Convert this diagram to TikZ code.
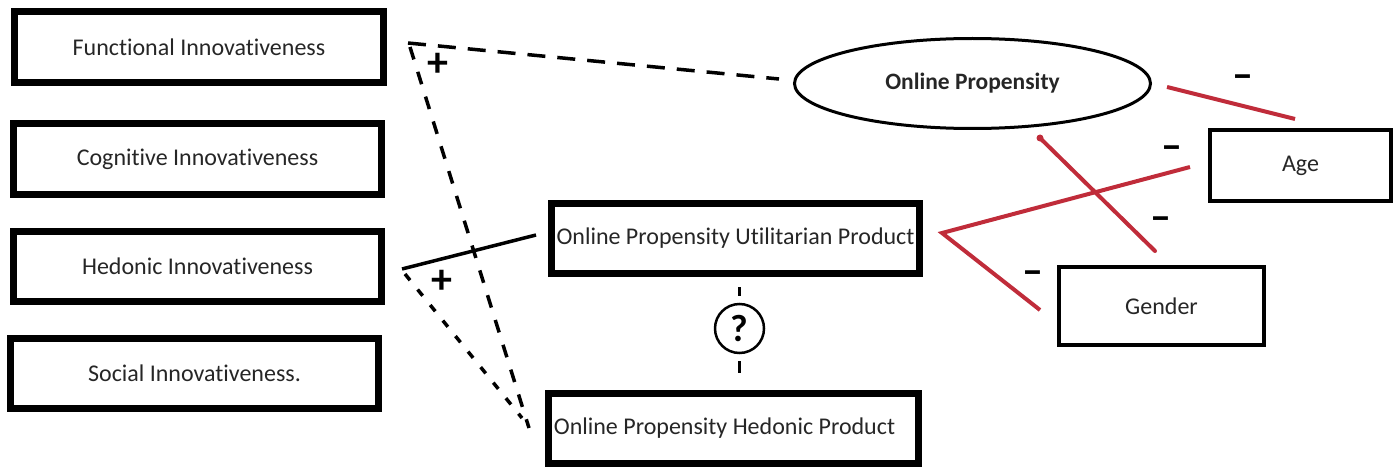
\documentclass[tikz,border=0pt]{standalone}
\usepackage{fontspec}
\setmainfont{Carlito}[Ligatures=NoCommon]
\usetikzlibrary{shapes.geometric}
\definecolor{linkred}{RGB}{192,44,58}
\tikzset{
  thickbox/.style={draw=black, line width=7pt, rectangle, inner sep=0pt,
    font=\fontsize{24}{28}\selectfont, text=black!85},
  thinbox/.style={draw=black, line width=4pt, rectangle, inner sep=0pt,
    font=\fontsize{24}{28}\selectfont, text=black!85},
  longdash/.style={draw=black, line width=3.5pt, dash pattern=on 18pt off 12pt},
  middash/.style={draw=black, line width=3.5pt, dash pattern=on 13pt off 13pt},
  shortdash/.style={draw=black, line width=3.5pt, dash pattern=on 8pt off 12pt},
  redlink/.style={draw=linkred, line width=4pt},
  sign/.style={font=\bfseries\fontsize{42}{42}\selectfont, inner sep=0pt},
  minus/.style={font=\bfseries\fontsize{42}{42}\selectfont, inner sep=0pt}
}
\begin{document}
\begin{tikzpicture}[x=1pt, y=-1pt]
\useasboundingbox (0,0) rectangle (1400,468);

% left column: the four innovativeness boxes
\node[thickbox, minimum width=369pt, minimum height=71pt] (fi) at (199,47) {Functional Innovativeness};
\node[thickbox, minimum width=368pt, minimum height=71pt] (ci) at (197.5,159) {Cognitive Innovativeness};
\node[thickbox, minimum width=368pt, minimum height=70pt] (hi) at (197.5,266.5) {Hedonic Innovativeness};
\node[thickbox, minimum width=368pt, minimum height=70pt] (si) at (194.5,373.5) {Social Innovativeness.};

% middle: product propensities
\node[thickbox, minimum width=368pt, minimum height=70pt] (ut) at (735.5,238.5) {Online Propensity Utilitarian Product};
\node[thickbox, minimum width=370pt, minimum height=70pt] (hp) at (733.5,428.5) {Online Propensity Hedonic Product\kern18pt};

% right: overall propensity and controls
\node[ellipse, draw=black, line width=3pt, minimum width=356pt, minimum height=90pt, inner sep=0pt,
  font=\bfseries\fontsize{23.5}{27}\selectfont, text=black!85] (op) at (972.5,83.5) {Online Propensity};
\node[thinbox, minimum width=181pt, minimum height=71pt] (age) at (1300.5,165.5) {Age};
\node[thinbox, minimum width=205pt, minimum height=78pt] (gen) at (1161.5,306) {Gender};

% open question between the two product propensities
\node[circle, draw=black, line width=2.5pt, minimum size=49pt, inner sep=0pt,
  font=\bfseries\fontsize{38}{38}\selectfont] (q) at (739.5,328.5) {?};
\coordinate (qt1) at (739.5,287);
\coordinate (qt2) at (739.5,296);
\coordinate (qb1) at (739.5,361);
\coordinate (qb2) at (739.5,373);
\draw[line width=3.5pt] (qt1) -- (qt2);
\draw[line width=3.5pt] (qb1) -- (qb2);

% positive paths from innovativeness
\coordinate (fc) at (408,43);
\coordinate (fc2) at (410,47);
\coordinate (opin) at (779,79);
\coordinate (hpin) at (529,428);
\coordinate (hc) at (405,274);
\coordinate (hpin2) at (522,418);
\coordinate (hcs) at (402,269);
\coordinate (utin) at (536,235);
\draw[longdash] (fc) -- (opin);
\draw[middash] (fc2) -- (hpin);
\draw[shortdash] (hc) -- (hpin2);
\draw[line width=3.5pt] (hcs) -- (utin);
\node[sign] (p1) at (438,65) {+};
\node[sign] (p2) at (442,282) {+};

% negative effects of age and gender
\coordinate (opr) at (1167,87);
\coordinate (agetop) at (1295,119);
\coordinate (opb) at (1040,138);
\coordinate (gentop) at (1155,251);
\coordinate (agel) at (1190,167);
\coordinate (utr) at (942,233);
\coordinate (genl) at (1040,310);
\draw[redlink] (opr) -- (agetop);
\draw[redlink, line cap=round] (opb) -- (gentop);
\fill[linkred] (opb) circle (3.5pt);
\draw[redlink, line join=miter] (agel) -- (utr) -- (genl);

\node[minus] (m1) at (1243,82) {–};
\node[minus] (m2) at (1172,153) {–};
\node[minus] (m3) at (1161,224) {–};
\node[minus] (m4) at (1033,278) {–};
\end{tikzpicture}
\end{document}
